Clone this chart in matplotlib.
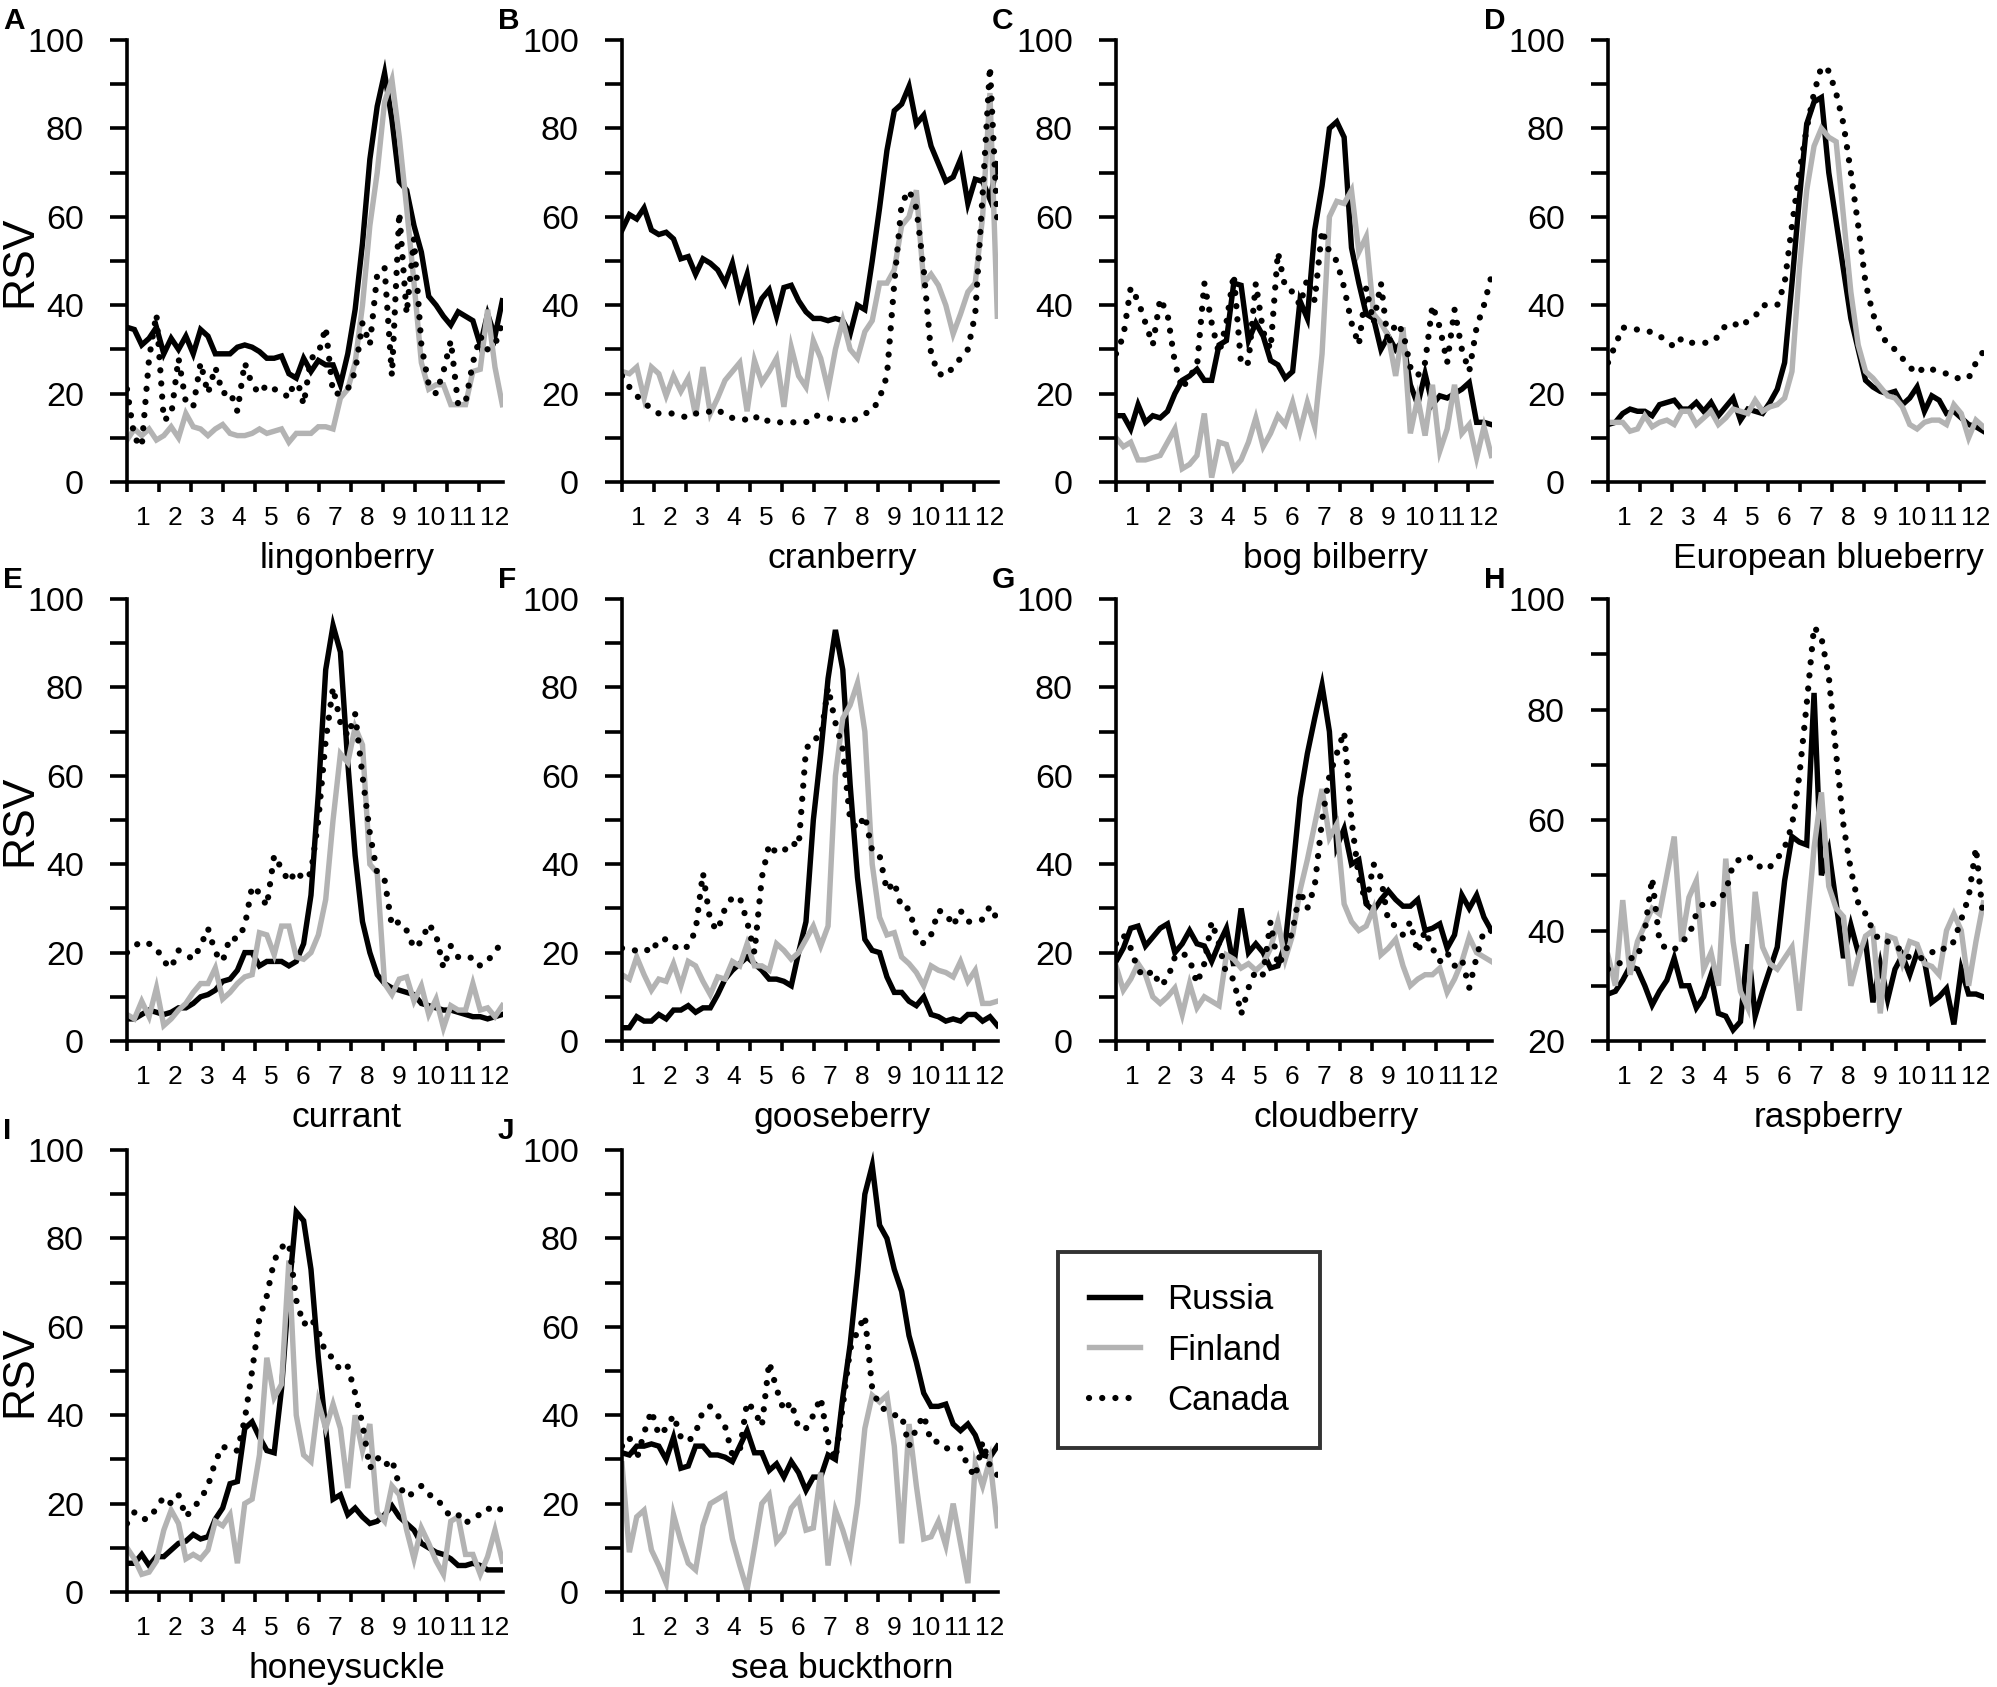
import numpy as np
import matplotlib
matplotlib.use("Agg")
import matplotlib.pyplot as plt
from matplotlib.lines import Line2D

plt.rcParams['font.family'] = ['Liberation Sans', 'DejaVu Sans']

# weekly relative search volume (RSV), 52 weeks per series
lingonberry_russia = [35, 34.5, 31, 32.5, 35, 29, 32.5, 30, 33, 29, 34.5, 33, 29, 29, 29, 30.5, 31, 30.5, 29.5, 28,
                      28, 28.5, 24.5, 23.5, 28, 25, 27.5, 26.5, 26.5, 22, 29, 39, 54, 73, 85, 92.5, 82, 68, 66, 58,
                      52, 42, 40, 37.5, 35.5, 38.5, 37.5, 36.5, 31, 38, 33, 41]
lingonberry_finland = [9.5, 12, 10.5, 12, 9.5, 10.5, 12.5, 10, 15.5, 12.5, 12, 10.5, 12, 13, 11, 10.5, 10.5, 11, 12, 11,
                       11.5, 12, 9, 11, 11, 11, 12.5, 12.5, 12, 19, 21, 27, 40, 58, 70, 86, 91, 78, 62, 45,
                       27, 21, 22, 22, 17.5, 17.5, 17.5, 25, 25.5, 39, 26, 17.5]
lingonberry_canada = [21, 10, 8, 28, 38, 14, 15, 28, 18, 17, 27, 20, 26, 20, 20.5, 16, 27, 22, 20, 22,
                      21, 20.5, 19, 24, 17.5, 28, 29, 35, 20, 20, 21, 25, 36, 31, 47, 48.5, 24, 61, 38, 55,
                      31, 22, 20, 25, 32, 17.5, 18, 27, 33, 30, 31, 36]

cranberry_russia = [57, 60.5, 59.5, 62, 57, 56, 56.5, 55, 50.5, 51, 47, 50.5, 49.5, 48, 45, 49.5, 42, 47, 37.5, 41.5,
                    43.5, 37.5, 44, 44.5, 41, 38.5, 37, 37, 36.5, 37, 36.5, 33.5, 40, 39, 50, 62, 75, 84, 85.5, 89.5,
                    81, 83, 76, 72, 68, 69, 73, 63, 68.5, 68, 64, 72]
cranberry_finland = [25, 24.5, 26, 19, 26, 24.5, 19.5, 24, 20.5, 23.5, 15, 26, 15.5, 19, 23, 25, 27, 16, 27.5, 22.5,
                     25, 28, 17, 30.5, 24, 21.5, 32, 28, 21, 30, 36.5, 30, 28, 34, 36.5, 45, 45, 48, 58, 60,
                     66, 45, 47, 44.5, 40, 33.5, 38, 43, 45, 60, 88, 37.5]
cranberry_canada = [24, 21.5, 19.5, 18, 16.5, 15.5, 15.5, 15.5, 15, 14.5, 15.5, 15.5, 16, 16.5, 15, 14.5, 14.5, 14, 15, 13.5,
                    14, 13.5, 13.5, 13.5, 13.5, 13.5, 15, 15, 14.5, 14, 14, 13.5, 14.5, 15.5, 16, 19, 24, 45, 63, 66,
                    62, 48, 29, 24.5, 24, 26, 28, 30, 38, 65, 94, 59]

bog_russia = [15, 15, 12, 17.5, 13.5, 15, 14.5, 16, 20, 23, 24, 25.5, 23, 23, 31, 32, 45, 44.5, 32, 36,
              33, 27.5, 26.5, 23.5, 25, 41, 37, 57, 67, 80, 81.5, 78, 53, 45, 38, 37, 30, 33, 30, 32,
              22, 17.5, 24.5, 17.5, 19.5, 19, 20, 21, 22.5, 13.5, 13.5, 13]
bog_finland = [10, 8, 9, 5, 5, 5.5, 6, 9, 12, 3, 4, 6, 15.5, 1, 9, 8.5, 3, 5, 9, 14.5,
               8, 11, 15, 13, 18, 11.5, 18, 12.5, 29, 60, 63.5, 63, 66, 52, 55.5, 38, 36, 33, 24, 35,
               11, 19, 10.5, 22, 7, 12, 22, 11, 13, 5.5, 12.5, 6]
bog_canada = [29, 33, 44, 41, 36, 31, 41.5, 38, 27, 21, 24, 26, 45, 36, 29, 36, 47, 26.5, 27, 45,
              34, 30, 52, 44, 43, 40, 46, 41, 57, 52, 50, 44, 36, 31, 44, 36, 45, 31, 36, 34,
              26, 24, 27, 40, 35, 27, 39, 30, 25, 35, 40, 46.5]

blueberry_russia = [13, 13.5, 15.5, 16.5, 16, 16, 15, 17.5, 18, 18.5, 16.5, 16.5, 18, 16, 18, 15, 17, 19, 14, 16.5,
                    16, 15.5, 18, 21, 27, 45, 64, 81, 86, 87, 70, 59, 48, 37, 30, 23, 21.5, 20.5, 20, 20.5,
                    17.5, 19, 21.5, 16, 19.5, 18.5, 15.5, 16, 14.5, 13, 12.5, 11.5]
blueberry_finland = [13.5, 13.5, 13.5, 11.5, 12, 15, 12.5, 13.5, 14, 13, 16, 16, 13, 14.5, 16, 13, 14.5, 16.5, 16, 15.5,
                     18.5, 16, 17, 17.5, 19, 25, 48, 66, 76, 80, 78, 77, 60, 43, 31, 25, 23.5, 21.5, 19.5, 19,
                     17, 13, 12, 13.5, 14, 14, 13, 17.5, 15.5, 10, 14, 12.5]
blueberry_canada = [27, 31, 35, 34.5, 34.5, 34, 34, 33, 32, 30.5, 32.5, 31.5, 31.5, 31.5, 31.5, 33, 35.5, 36, 35, 36.5,
                    37.5, 40, 40, 40, 45, 58, 70, 80, 88, 94, 93, 88, 81, 70, 58, 45, 38, 34, 31, 30,
                    28, 26, 24.5, 26, 25.5, 25, 24.5, 23.5, 23.5, 23.5, 27, 29.5]

currant_russia = [5, 5, 6, 7, 6.5, 6, 6.5, 7.5, 7.5, 8.5, 10, 10.5, 11.5, 13.5, 14, 16, 20, 20, 17, 18,
                  18, 18, 17, 18, 22, 33, 56, 84, 94, 88, 63, 42, 27, 20, 15, 13, 12, 11.5, 11, 10.5,
                  8.5, 8, 7.5, 7, 7, 6.5, 6, 5.5, 5.5, 5, 5.5, 6]
currant_finland = [6, 5, 9, 5.5, 12, 3.5, 5, 7, 8.5, 11, 13, 13, 16.5, 9.5, 11, 13, 14.5, 15, 24.5, 24,
                   19.5, 26, 26, 19, 18.5, 20, 24, 32, 50, 65, 63, 71, 67, 40, 38, 13, 10.5, 14, 14.5, 9,
                   12.5, 6, 9.5, 3, 8, 7, 7, 13, 7, 7.5, 5.5, 8]
currant_canada = [20, 21.5, 22.5, 22, 21, 18, 16.5, 20.5, 19.5, 18.5, 21.5, 25.5, 20, 18, 23.5, 23, 26, 35, 33.5, 30.5,
                  42, 39, 36, 38.5, 36.5, 38, 50, 68, 80, 72, 69, 74, 60, 47, 38, 36.5, 26, 27, 25, 21,
                  22.5, 26.5, 24, 16.5, 21.5, 19, 18.5, 19, 17, 18, 20.5, 22]

gooseberry_russia = [3, 3, 5.5, 4.5, 4.5, 6, 5, 7, 7, 8, 6.5, 7.5, 7.5, 10.5, 14, 16, 17.5, 19, 17.5, 16,
                     14, 14, 13.5, 12.5, 20, 27, 50, 65, 82, 93, 84, 58, 37, 23, 20.5, 20, 14.5, 11, 11, 9,
                     8, 10, 6, 5.5, 4.5, 5, 4.5, 6, 6, 4.5, 5.5, 3.5]
gooseberry_finland = [15, 14, 19, 15, 11.5, 14, 13.5, 17.5, 12.5, 18, 17, 13.5, 10.5, 14.5, 14, 18, 17, 22, 17, 17,
                      16, 22, 20.5, 18.5, 20, 23, 26, 21.5, 26, 60, 73, 76, 81, 70, 40, 28, 24, 24.5, 19, 17.5,
                      15.5, 12.5, 17, 16, 15.5, 14.5, 18, 13.5, 16, 8.5, 8.5, 9]
gooseberry_canada = [21, 20.5, 20.5, 21, 20, 23, 23, 21.5, 20.5, 21.5, 25, 38, 27, 25, 30, 32.5, 32.5, 27, 20, 37,
                     44.5, 42.5, 43, 45, 44, 66, 68.5, 68.5, 80, 72, 66, 50, 48, 51, 43, 42, 34, 36, 30, 30,
                     24, 22, 24, 29.5, 29, 26, 29.5, 27, 27, 27.5, 30.5, 27.5]

cloudberry_russia = [18, 21, 25.5, 26, 21.5, 23.5, 25.5, 26.5, 20, 22, 25, 22, 21.5, 18, 22, 25.5, 17, 30, 20, 22,
                     20, 16.5, 17, 22, 38, 55, 65, 73, 80.5, 70, 44, 48, 40, 41, 31, 29.5, 32, 34, 32, 30.5,
                     30.5, 32, 25, 25.5, 26.5, 21, 24, 33, 30, 33, 28, 25]
cloudberry_finland = [17, 11.5, 14, 17.5, 15, 10, 8.5, 10, 12, 6, 13, 7.5, 10, 9, 8, 19.5, 18.5, 16.5, 17.5, 16,
                      17.5, 21, 27, 18.5, 24, 34, 41, 49, 57, 46, 49, 31, 27, 25, 26, 30, 19.5, 21, 23, 17,
                      12.5, 14, 15, 15, 16.5, 11, 14, 18, 23.5, 20, 19, 18]
cloudberry_canada = [22, 24, 21, 16, 14.5, 16, 12.5, 14, 19, 20, 18.5, 13, 17.5, 27, 22, 15, 14, 6, 12, 16,
                     15, 27, 17, 20, 25, 34, 30, 35, 50, 60, 65, 70, 50, 37, 31, 40, 37, 27, 26, 24,
                     27, 20, 25, 21, 18, 20, 17, 18.5, 12, 19, 25, 25]

raspberry_russia = [28.5, 29, 31, 33.5, 33, 30, 26.5, 29, 31, 35, 30, 30, 26, 28, 32, 25, 24.5, 22, 23.5, 37.5,
                    24.5, 29, 33, 37, 49, 57, 56, 55.5, 83, 50, 54.5, 45, 35, 41, 36, 38, 27, 34, 27.5, 33,
                    35.5, 32, 36, 34.5, 27, 28, 29.5, 23, 33, 28.5, 28.5, 28]
raspberry_finland = [35.5, 30, 45.5, 32, 38, 41, 44, 43, 50, 57, 38, 46, 49, 33, 36, 30, 53, 38, 29, 26,
                     47, 37, 34, 33, 35, 37, 25.5, 40, 55, 65, 48, 44, 42.5, 30, 35, 39, 40, 25, 39, 38.5,
                     34, 38, 37.5, 34, 33.5, 32, 40, 43, 40, 30, 38, 45]
raspberry_canada = [33, 33.5, 34.5, 35, 35, 40, 49.5, 38, 36.5, 36.5, 38, 39, 43, 45, 44.5, 45.5, 47, 52, 53, 53.5,
                    52.5, 51, 51.5, 53, 55, 59, 68, 81, 95, 93, 86, 72, 59, 51, 45, 43, 40, 38, 38, 37,
                    36.5, 35, 35, 35, 36, 37, 36.5, 38, 42, 46, 55, 42]

honeysuckle_russia = [6.5, 6.5, 8.5, 6, 8, 8, 9.5, 11, 11.5, 13, 12, 12.5, 16.5, 19, 24.5, 25, 37, 38.5, 35, 32,
                      31.5, 46, 68, 86, 84, 73, 53, 37, 21, 22, 17.5, 19, 17, 15.5, 16, 17.5, 19.5, 17, 15.5, 14,
                      11, 10, 9, 8.5, 7.5, 6, 6, 6.5, 6, 5, 5, 5]
honeysuckle_finland = [10, 7.5, 4, 4.5, 7, 14, 18.5, 15.5, 7.5, 8.5, 7.5, 9.5, 16, 15, 17.5, 6.5, 20, 21, 31, 53,
                       44, 47, 75, 40, 31, 29.5, 43, 37, 42.5, 37, 23.5, 40, 32, 38, 18, 16, 24, 22, 14, 7.5,
                       14.5, 11, 7, 4, 16, 17, 8.5, 8.5, 4, 8, 14, 7]
honeysuckle_canada = [15.5, 18, 16.5, 16.5, 19, 21.5, 20, 22, 17, 19, 21, 24, 29.5, 33, 32, 32, 39, 50, 62, 67,
                      75, 78, 79, 66, 60.5, 62, 59, 54, 53, 50, 51, 45, 38, 28, 30.5, 28.5, 30, 24, 21.5, 22.5,
                      24, 22, 21.5, 19, 17, 17.5, 15.5, 17, 17.5, 19, 18, 19]

buckthorn_russia = [31.5, 31, 33, 33, 33.5, 33, 30, 35, 28, 28.5, 33, 33, 31, 31, 30.5, 29.5, 33, 36.5, 31.5, 31.5,
                    27.5, 29, 26, 29.5, 27, 23, 26, 26, 31, 30, 44, 56, 72, 90, 96.5, 83, 80, 73, 68, 58,
                    52, 45, 42, 42, 42.5, 38, 36.5, 38, 35.5, 31, 30.5, 33]
buckthorn_finland = [29, 9, 17, 18.5, 9.5, 6, 2, 17.5, 11.5, 6.5, 5, 15, 20, 21, 22, 12, 6, 0.5, 10, 20,
                     22, 11.5, 13.5, 19, 21, 14, 14.5, 27, 6, 18.5, 14, 8.5, 20, 37, 44.5, 43, 44.5, 33, 11, 38,
                     24, 12, 12.5, 16, 10.5, 20, 11, 2, 29, 24, 30, 15]
buckthorn_canada = [33, 35, 30, 36, 41, 35.5, 37, 40, 35, 34, 36, 41, 42, 40, 37.5, 31, 32, 43, 41, 37.5,
                    52, 46, 41, 43, 37, 37, 40, 44, 34, 30, 42, 55, 59, 62.5, 46, 42, 41, 40, 40, 33,
                    37, 40, 34, 34, 32.5, 32.5, 32.5, 28.5, 26, 34, 28.5, 26.5]

panel_letters = ['A', 'B', 'C', 'D', 'E', 'F', 'G', 'H', 'I', 'J']
species = ['lingonberry', 'cranberry', 'bog bilberry', 'European blueberry', 'currant',
           'gooseberry', 'cloudberry', 'raspberry', 'honeysuckle', 'sea buckthorn']
russia = [lingonberry_russia, cranberry_russia, bog_russia, blueberry_russia, currant_russia,
          gooseberry_russia, cloudberry_russia, raspberry_russia, honeysuckle_russia, buckthorn_russia]
finland = [lingonberry_finland, cranberry_finland, bog_finland, blueberry_finland, currant_finland,
           gooseberry_finland, cloudberry_finland, raspberry_finland, honeysuckle_finland, buckthorn_finland]
canada = [lingonberry_canada, cranberry_canada, bog_canada, blueberry_canada, currant_canada,
          gooseberry_canada, cloudberry_canada, raspberry_canada, honeysuckle_canada, buckthorn_canada]
month_labels = [str(m) for m in range(1, 13)]
countries = ['Russia', 'Finland', 'Canada']

# week index -> month position
weeks = np.arange(52) * 12 / 52.18

GRAY = '#b3b3b3'
DOTS = (0, (0.01, 2.1))
LW = 3.9
SPINE = 2.6

W_PX, H_PX = 1997, 1687
fig = plt.figure(figsize=(W_PX / 100, H_PX / 100), dpi=100)

col_left = [127, 622, 1116, 1608]
row_top = [40, 599, 1150]
row_base = [482, 1041, 1592]
ax_w = 376

for i in range(10):
    r, c = divmod(i, 4)
    ax = fig.add_axes([col_left[c] / W_PX, 1 - row_base[r] / H_PX,
                       ax_w / W_PX, (row_base[r] - row_top[r]) / H_PX])

    ax.plot(weeks, russia[i], color='black', lw=LW, solid_joinstyle='miter')
    ax.plot(weeks, finland[i], color=GRAY, lw=LW, solid_joinstyle='miter')
    ax.plot(weeks, canada[i], color='black', lw=LW + 0.6, linestyle=DOTS, dash_capstyle='round')

    # raspberry panel starts at 20
    ymin = 20 if species[i] == 'raspberry' else 0
    ax.set_ylim(ymin, 100)
    ax.set_xlim(0, 11.75)

    for s in ['top', 'right']:
        ax.spines[s].set_visible(False)
    for s in ['left', 'bottom']:
        ax.spines[s].set_linewidth(SPINE)

    ax.set_yticks(np.arange(ymin, 101, 20))
    ax.set_yticks(np.arange(ymin + 10, 100, 20), minor=True)
    ax.tick_params(axis='y', which='both', direction='out', length=12, width=SPINE,
                   labelsize=24.5, pad=19)

    ax.set_xticks(np.arange(12))
    ax.set_xticklabels([])
    ax.set_xticks(np.arange(12) + 0.5, minor=True)
    ax.set_xticklabels(month_labels, minor=True)
    ax.tick_params(axis='x', which='major', direction='out', length=7, width=SPINE)
    ax.tick_params(axis='x', which='minor', length=0, labelsize=19, pad=17)

    ax.annotate(species[i], xy=(0.585, 0), xycoords='axes fraction', xytext=(0, -55),
                textcoords='offset points', ha='center', va='center', fontsize=25.5)
    ax.text(-0.33, 1.075, panel_letters[i], transform=ax.transAxes, fontsize=21.5,
            fontweight='bold', ha='left', va='top')
    if c == 0:
        ax.text(-0.285, 0.5, 'RSV', transform=ax.transAxes, rotation=90,
                ha='center', va='center', fontsize=32)

handles = [Line2D([], [], color='black', lw=LW),
           Line2D([], [], color=GRAY, lw=LW),
           Line2D([], [], color='black', lw=LW + 0.6, linestyle=DOTS, dash_capstyle='round')]
leg = fig.legend(handles, countries, loc='upper left',
                 bbox_to_anchor=(1058 / W_PX, 1 - 1252 / H_PX), fontsize=25,
                 frameon=True, fancybox=False, edgecolor='black', handlelength=1.45,
                 handletextpad=0.8, labelspacing=0.5, borderpad=0.9, borderaxespad=0)
leg.get_frame().set_linewidth(2.8)

fig.savefig('out.png', dpi=100)
